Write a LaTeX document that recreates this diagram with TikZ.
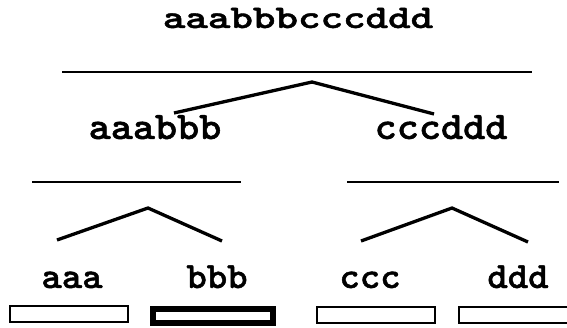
\documentclass[tikz,border=0pt]{standalone}
\usepackage{fontspec}
\newfontfamily\courfont{lmmonolt10-bold.otf}[FakeBold=1.2]
\newcommand{\wide}[3]{\scalebox{#1}[1]{\courfont\fontsize{#2}{#2}\selectfont #3}}
\begin{document}
\begin{tikzpicture}[x=1pt,y=-1pt,
  lab/.style={inner sep=0pt,anchor=base},
  bar/.style={line width=2.6pt},
  caret/.style={line width=3.3pt,line join=miter},
  leafbox/.style={draw,line width=2.2pt,inner sep=0pt,minimum height=16pt,anchor=north west}]
\useasboundingbox (0,0) rectangle (567,327);
% labels
\node[lab] (top) at (298,28) {\wide{1.3}{33}{aaabbbcccddd}};
\node[lab] (ab) at (155,139) {\wide{1.08}{39}{aaabbb}};
\node[lab] (cd) at (441,139) {\wide{1.08}{39}{cccddd}};
\node[lab] (a) at (72,288) {\wide{1.05}{37}{aaa}};
\node[lab] (b) at (217,288) {\wide{1.05}{37}{bbb}};
\node[lab] (c) at (370,288) {\wide{1.05}{37}{ccc}};
\node[lab] (d) at (518,288) {\wide{1.05}{37}{ddd}};
% horizontal bars
\coordinate (t1) at (62,72); \coordinate (t2) at (532,72);
\coordinate (l1) at (32,182); \coordinate (l2) at (241,182);
\coordinate (r1) at (347,182); \coordinate (r2) at (559,182);
\draw[bar] (t1) -- (t2);
\draw[bar] (l1) -- (l2);
\draw[bar] (r1) -- (r2);
% carets
\coordinate (tA) at (312,82); \coordinate (tL) at (174,113); \coordinate (tR) at (434,114);
\coordinate (lA) at (148,208); \coordinate (lL) at (57,240); \coordinate (lR) at (222,241);
\coordinate (rA) at (452,208); \coordinate (rL) at (361,241); \coordinate (rR) at (528,242);
\draw[caret] (tL) -- (tA) -- (tR);
\draw[caret] (lL) -- (lA) -- (lR);
\draw[caret] (rL) -- (rA) -- (rR);
% boxes
\node[leafbox,minimum width=118pt] (ba) at (9,305) {};
\node[leafbox,line width=6pt,minimum width=120pt,minimum height=14pt] (bb) at (150,306) {};
\node[leafbox,minimum width=118pt] (bc) at (316,306) {};
\node[leafbox,minimum width=115pt] (bd) at (458,306) {};
\end{tikzpicture}
\end{document}
